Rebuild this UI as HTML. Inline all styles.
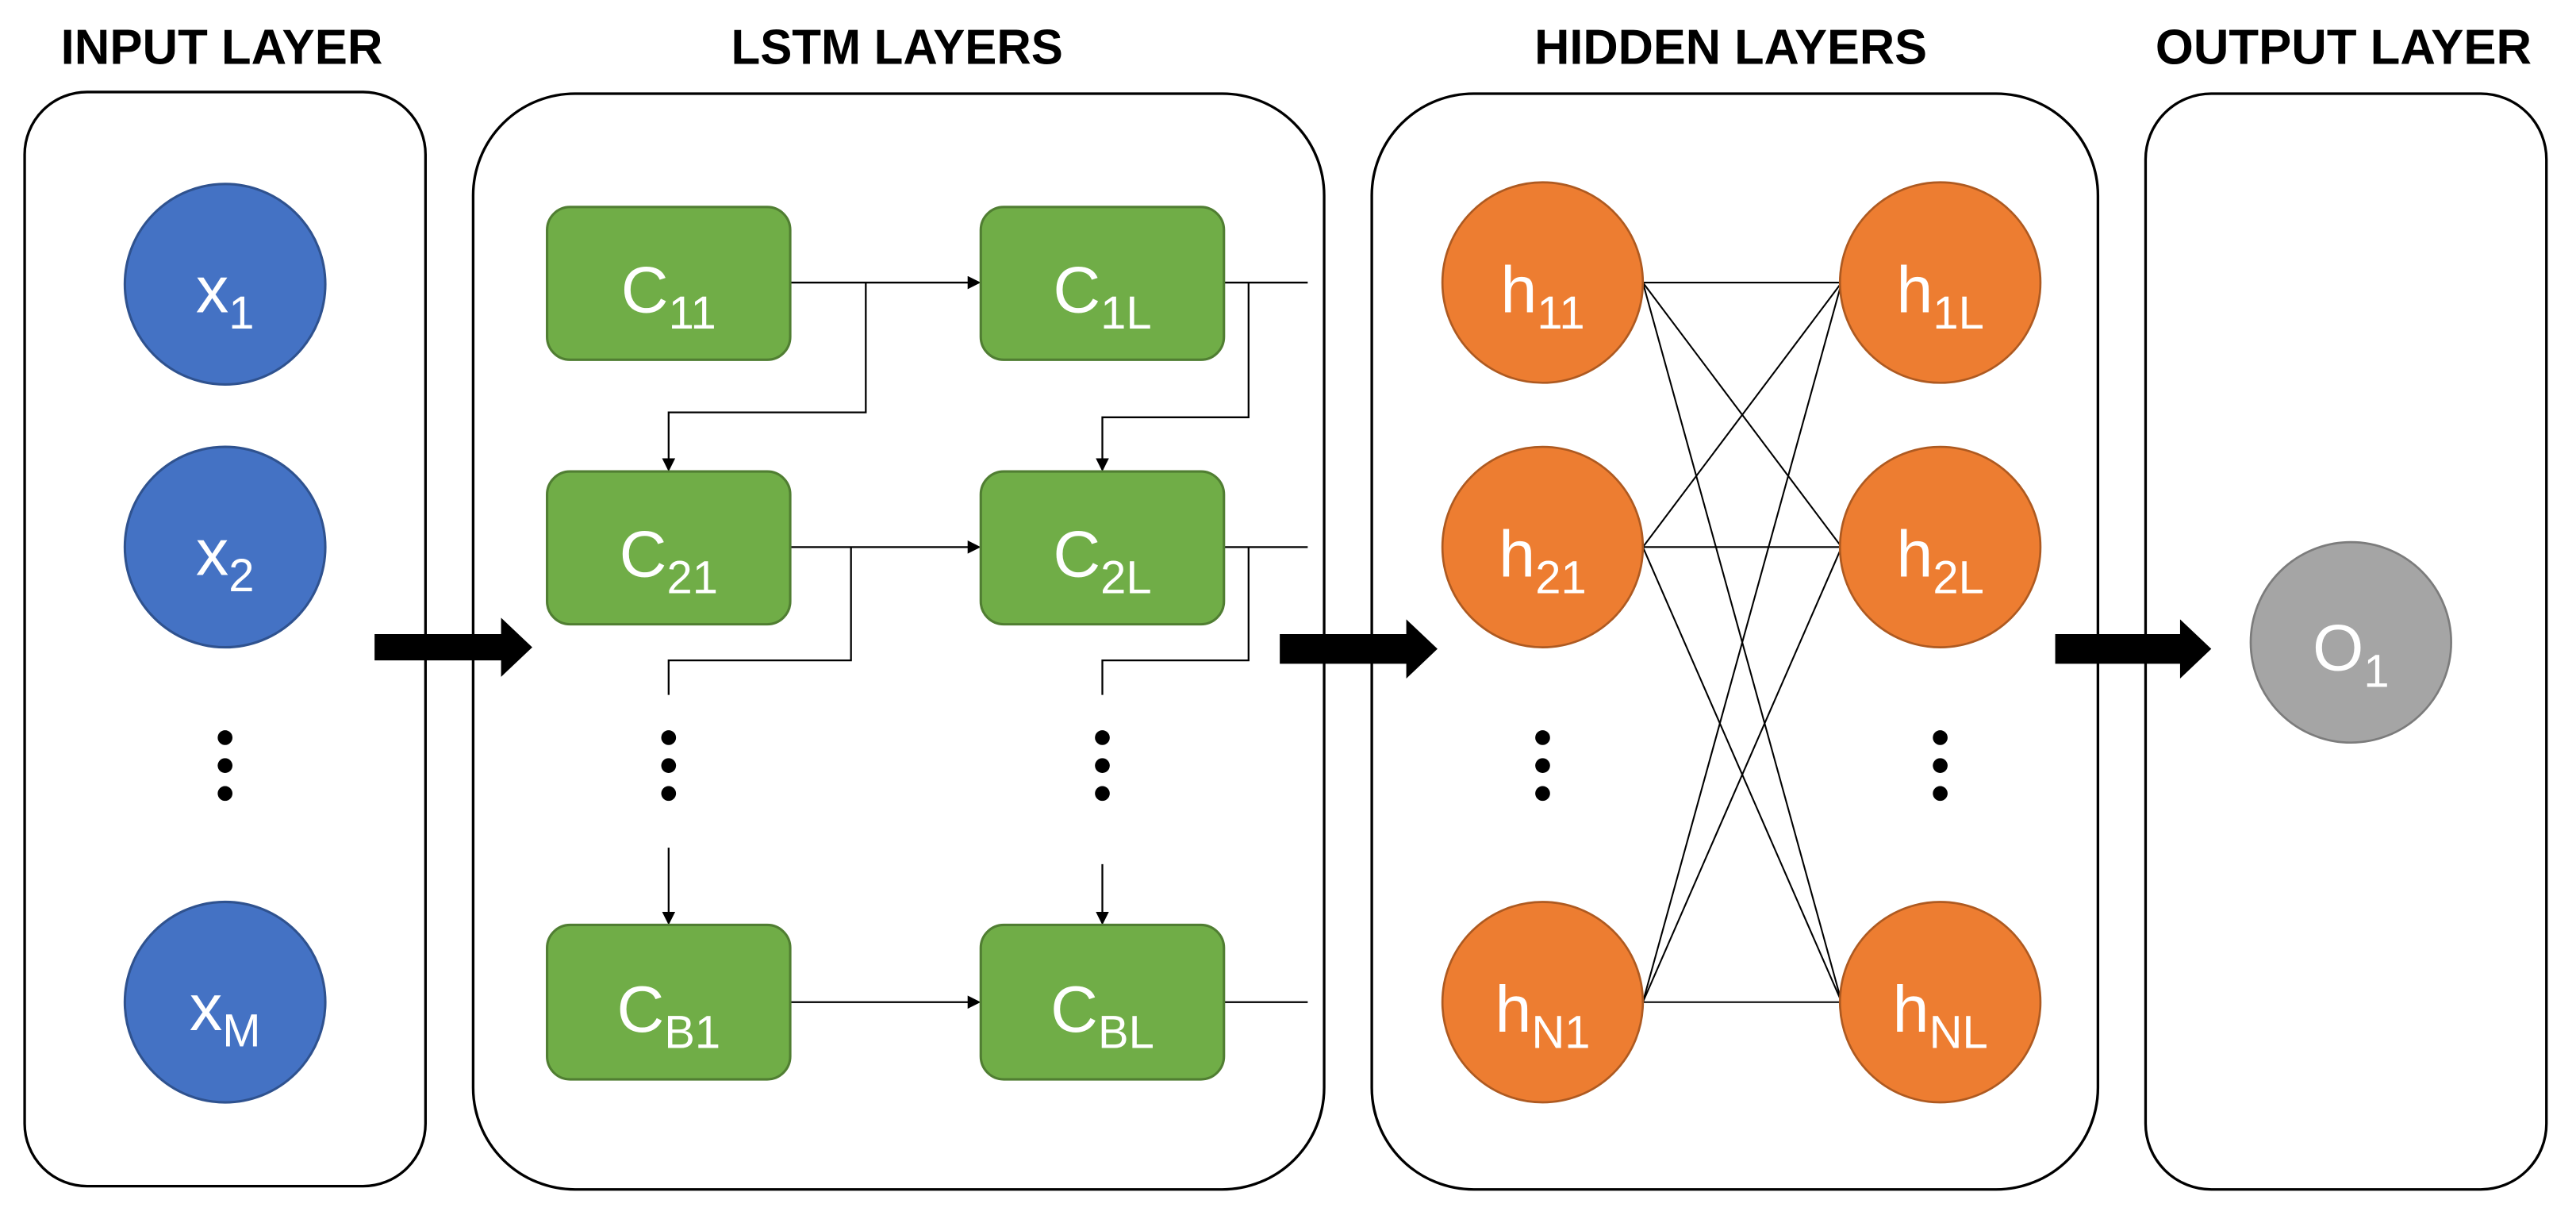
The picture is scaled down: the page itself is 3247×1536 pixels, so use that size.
<!DOCTYPE html>
<html><head><meta charset="utf-8"><style>
html,body{margin:0;padding:0;background:#fff;}
svg{display:block;}
text{font-family:"Liberation Sans",sans-serif;}
.t{font-weight:bold;font-size:30px;fill:#000;}
.l{fill:#fff;font-size:40px;text-anchor:middle;}
</style></head><body>
<svg width="3247" height="1536" viewBox="0 0 1568 742" preserveAspectRatio="none" xmlns="http://www.w3.org/2000/svg">
<defs>
<marker id="a" markerWidth="8" markerHeight="8" refX="7" refY="4" orient="auto" markerUnits="userSpaceOnUse"><path d="M0,0 L8,4 L0,8 z" fill="#000"/></marker>
</defs>
<text class="t" x="37" y="39" textLength="196" lengthAdjust="spacingAndGlyphs">INPUT LAYER</text>
<text class="t" x="445" y="39" textLength="202" lengthAdjust="spacingAndGlyphs">LSTM LAYERS</text>
<text class="t" x="934" y="39" textLength="239" lengthAdjust="spacingAndGlyphs">HIDDEN LAYERS</text>
<text class="t" x="1312" y="39" textLength="229" lengthAdjust="spacingAndGlyphs">OUTPUT LAYER</text>

<g fill="none" stroke="#000" stroke-width="1.6">
<rect x="15" y="56" width="244" height="666" rx="38"/>
<rect x="288" y="57" width="518" height="667" rx="62"/>
<rect x="835" y="57" width="442" height="667" rx="62"/>
<rect x="1306" y="57" width="244" height="667" rx="40"/>
</g>

<!-- input circles -->
<g fill="#4472C4" stroke="#2F528F" stroke-width="1.5">
<circle cx="137" cy="173" r="61"/><circle cx="137" cy="333" r="61"/><circle cx="137" cy="610" r="61"/>
</g>
<text class="l" x="137" y="190">x<tspan font-size="28" dy="10">1</tspan></text>
<text class="l" x="137" y="350">x<tspan font-size="28" dy="10">2</tspan></text>
<text class="l" x="137" y="627">x<tspan font-size="28" dy="10">M</tspan></text>
<g fill="#000"><circle cx="137" cy="449" r="4.5"/><circle cx="137" cy="466" r="4.5"/><circle cx="137" cy="483" r="4.5"/></g>

<!-- big arrows -->
<g fill="#000">
<path d="M228,386 H305 V376 L324,394 L305,412 V402 H228 z"/>
<path d="M779,386 H856 V377 L875,395 L856,413 V404 H779 z"/>
<path d="M1251,386 H1327 V377 L1346,395 L1327,413 V404 H1251 z"/>
</g>

<!-- LSTM connectors -->
<g fill="none" stroke="#000" stroke-width="1.1">
<path d="M481,172 H596" marker-end="url(#a)"/>
<path d="M527,172 V251 H407 V286" marker-end="url(#a)"/>
<path d="M745,172 H796"/>
<path d="M760,172 V254 H671 V286" marker-end="url(#a)"/>
<path d="M481,333 H596" marker-end="url(#a)"/>
<path d="M518,333 V402 H407 V423"/>
<path d="M745,333 H796"/>
<path d="M760,333 V402 H671 V423"/>
<path d="M407,516 V562" marker-end="url(#a)"/>
<path d="M671,526 V562" marker-end="url(#a)"/>
<path d="M481,610 H596" marker-end="url(#a)"/>
<path d="M745,610 H796"/>
</g>
<g fill="#000">
<circle cx="407" cy="449" r="4.5"/><circle cx="407" cy="466" r="4.5"/><circle cx="407" cy="483" r="4.5"/>
<circle cx="671" cy="449" r="4.5"/><circle cx="671" cy="466" r="4.5"/><circle cx="671" cy="483" r="4.5"/>
</g>
<g fill="#70AD47" stroke="#507E32" stroke-width="1.5">
<rect x="333" y="126" width="148" height="93" rx="14"/>
<rect x="597" y="126" width="148" height="93" rx="14"/>
<rect x="333" y="287" width="148" height="93" rx="14"/>
<rect x="597" y="287" width="148" height="93" rx="14"/>
<rect x="333" y="563" width="148" height="94" rx="14"/>
<rect x="597" y="563" width="148" height="94" rx="14"/>
</g>
<text class="l" x="407" y="190">C<tspan font-size="28" dy="10">11</tspan></text>
<text class="l" x="671" y="190">C<tspan font-size="28" dy="10">1L</tspan></text>
<text class="l" x="407" y="351">C<tspan font-size="28" dy="10">21</tspan></text>
<text class="l" x="671" y="351">C<tspan font-size="28" dy="10">2L</tspan></text>
<text class="l" x="407" y="628">C<tspan font-size="28" dy="10">B1</tspan></text>
<text class="l" x="671" y="628">C<tspan font-size="28" dy="10">BL</tspan></text>

<!-- hidden connections -->
<g stroke="#000" stroke-width="1">
<line x1="1000" y1="172" x2="1121" y2="172"/><line x1="1000" y1="172" x2="1121" y2="333"/><line x1="1000" y1="172" x2="1121" y2="610"/>
<line x1="1000" y1="333" x2="1121" y2="172"/><line x1="1000" y1="333" x2="1121" y2="333"/><line x1="1000" y1="333" x2="1121" y2="610"/>
<line x1="1000" y1="610" x2="1121" y2="172"/><line x1="1000" y1="610" x2="1121" y2="333"/><line x1="1000" y1="610" x2="1121" y2="610"/>
</g>
<g fill="#ED7D31" stroke="#AE5A21" stroke-width="1.3">
<circle cx="939" cy="172" r="61"/><circle cx="939" cy="333" r="61"/><circle cx="939" cy="610" r="61"/>
<circle cx="1181" cy="172" r="61"/><circle cx="1181" cy="333" r="61"/><circle cx="1181" cy="610" r="61"/>
</g>
<text class="l" x="939" y="190">h<tspan font-size="28" dy="10">11</tspan></text>
<text class="l" x="939" y="351">h<tspan font-size="28" dy="10">21</tspan></text>
<text class="l" x="939" y="628">h<tspan font-size="28" dy="10">N1</tspan></text>
<text class="l" x="1181" y="190">h<tspan font-size="28" dy="10">1L</tspan></text>
<text class="l" x="1181" y="351">h<tspan font-size="28" dy="10">2L</tspan></text>
<text class="l" x="1181" y="628">h<tspan font-size="28" dy="10">NL</tspan></text>
<g fill="#000">
<circle cx="939" cy="449" r="4.5"/><circle cx="939" cy="466" r="4.5"/><circle cx="939" cy="483" r="4.5"/>
<circle cx="1181" cy="449" r="4.5"/><circle cx="1181" cy="466" r="4.5"/><circle cx="1181" cy="483" r="4.5"/>
</g>

<circle cx="1431" cy="391" r="61" fill="#A5A5A5" stroke="#7C7C7C" stroke-width="1.3"/>
<text class="l" x="1431" y="408">O<tspan font-size="28" dy="10">1</tspan></text>
</svg>
</body></html>
